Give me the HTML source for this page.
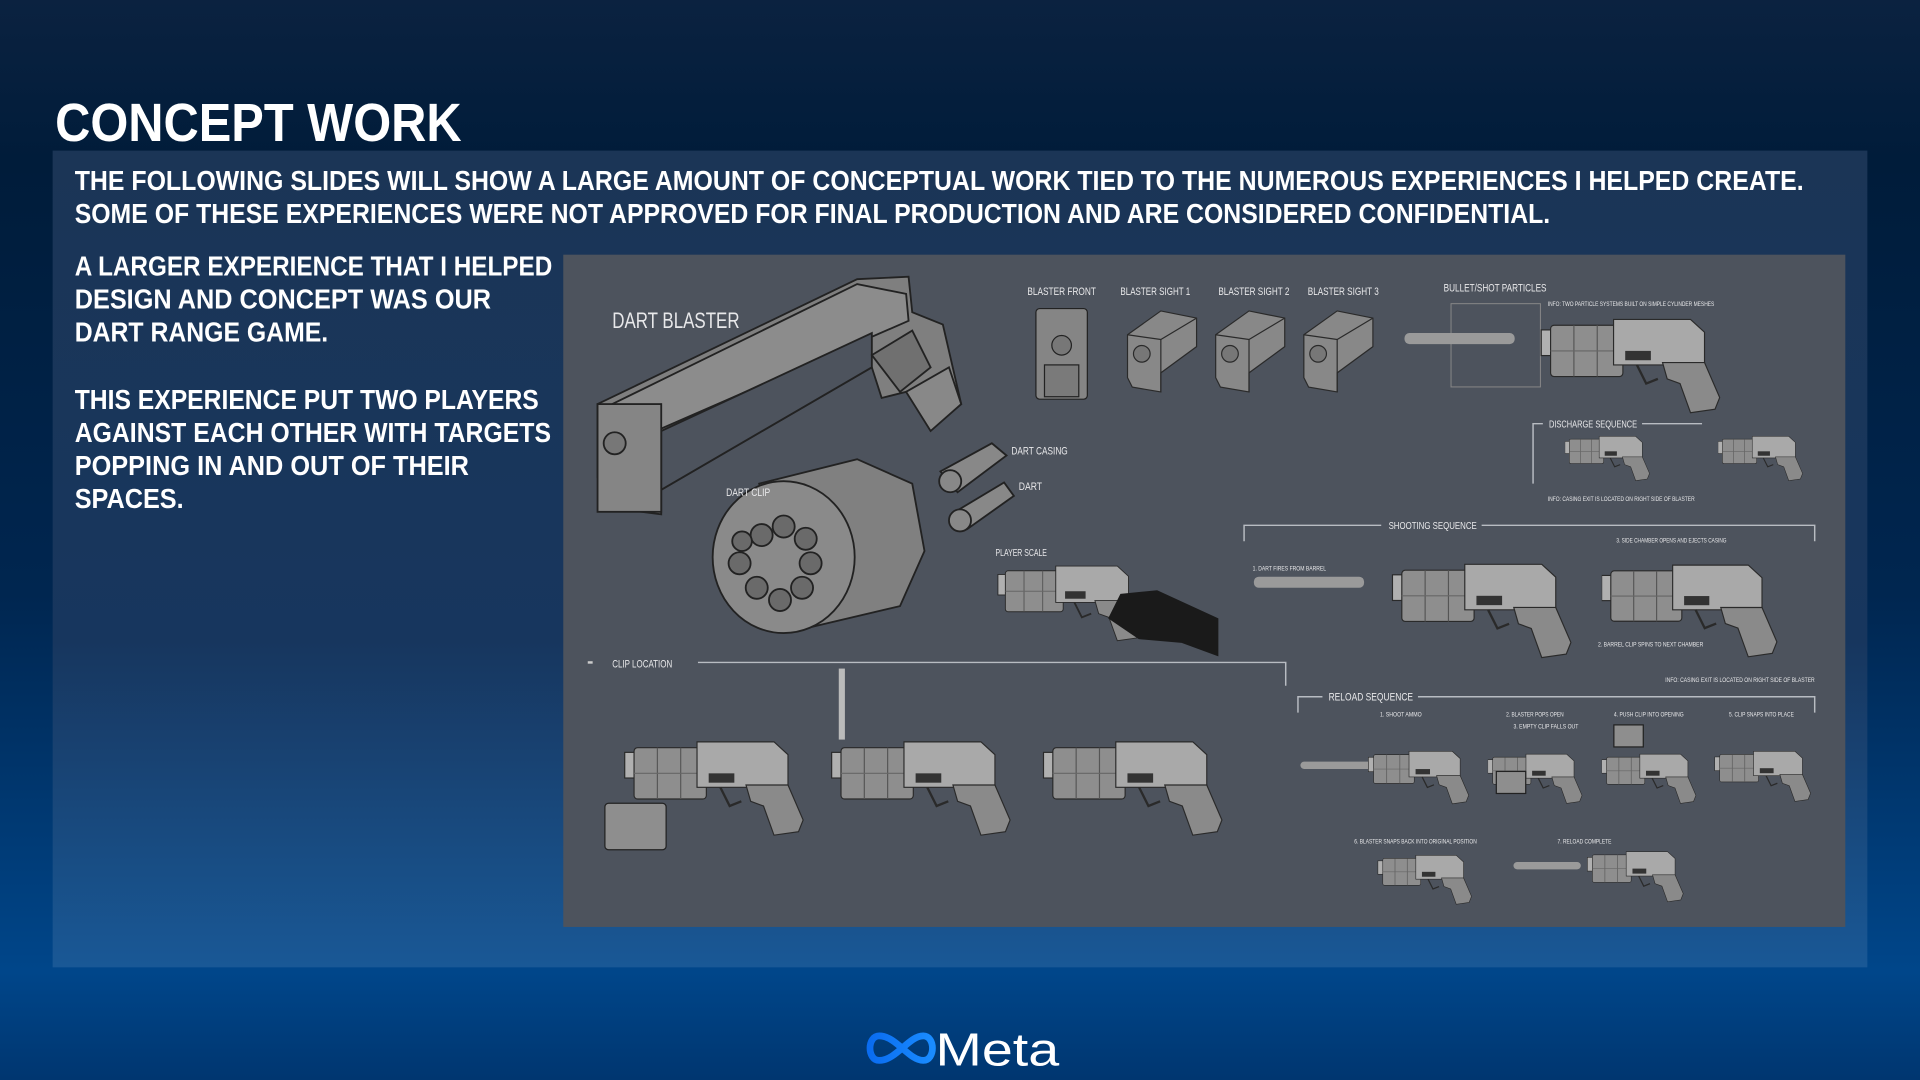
<!DOCTYPE html>
<html><head><meta charset="utf-8"><style>
html,body{margin:0;padding:0;width:1920px;height:1080px;overflow:hidden;background:#001c3a}
svg{display:block}
.t{font-family:"Liberation Sans",sans-serif;font-weight:bold;fill:#fff}
.h{font-family:"Liberation Sans Narrow","Liberation Sans",sans-serif;fill:#e8e8ea}
</style></head><body>
<svg width="1920" height="1080" viewBox="0 0 1568 882" xmlns="http://www.w3.org/2000/svg">
<defs>
<linearGradient id="bg" x1="0" y1="0" x2="0" y2="1">
<stop offset="0" stop-color="#0b2240"/><stop offset="0.15" stop-color="#001c3a"/><stop offset="0.55" stop-color="#002650"/>
<stop offset="0.9" stop-color="#00468a"/><stop offset="1" stop-color="#003670"/></linearGradient>
<linearGradient id="pn" x1="0" y1="0" x2="0" y2="1">
<stop offset="0" stop-color="#1b3556"/><stop offset="0.6" stop-color="#17365e"/><stop offset="1" stop-color="#195896"/></linearGradient>
<linearGradient id="inf" x1="0" y1="0" x2="1" y2="0"><stop offset="0" stop-color="#0a6cf0"/><stop offset="1" stop-color="#1a8cff"/></linearGradient>
<symbol id="gun" viewBox="0 0 155 84">
<rect x="0" y="12" width="9" height="22" fill="#b0b0b0" stroke="#2a2a2a"/>
<rect x="8" y="8" width="62" height="44" rx="3" fill="#8e8e8e" stroke="#2a2a2a"/>
<line x1="28" y1="8" x2="28" y2="52" stroke="#555"/><line x1="48" y1="8" x2="48" y2="52" stroke="#555"/>
<line x1="8" y1="30" x2="70" y2="30" stroke="#666"/>
<path d="M62,3 L128,3 L140,14 L140,42 L62,42 Z" fill="#a9a9a9" stroke="#2a2a2a"/>
<rect x="72" y="30" width="22" height="8" fill="#333"/>
<path d="M104,40 L140,40 L153,70 L149,80 L128,83 L119,58 L108,54 Z" fill="#8a8a8a" stroke="#2a2a2a"/>
<path d="M82,42 L90,58 L100,54" fill="none" stroke="#2a2a2a" stroke-width="2"/>
</symbol>
<symbol id="sight" viewBox="0 0 62 72">
<path d="M2,22 L30,2 L60,8 L60,32 L30,54 L30,70 L6,66 L2,58 Z" fill="#888" stroke="#2a2a2a"/>
<path d="M2,22 L30,26 L60,8" fill="none" stroke="#2a2a2a"/><line x1="30" y1="26" x2="30" y2="70" stroke="#2a2a2a"/>
<circle cx="14" cy="38" r="7" fill="#777" stroke="#2a2a2a"/>
</symbol>
</defs>
<rect width="1568" height="882" fill="url(#bg)"/>
<rect x="43" y="123" width="1482" height="667" fill="url(#pn)"/>
<text class="t" x="45" y="115" font-size="44" textLength="332" lengthAdjust="spacingAndGlyphs">CONCEPT WORK</text>
<text class="t" x="61" y="155" font-size="23" textLength="1412" lengthAdjust="spacingAndGlyphs">THE FOLLOWING SLIDES WILL SHOW A LARGE AMOUNT OF CONCEPTUAL WORK TIED TO THE NUMEROUS EXPERIENCES I HELPED CREATE.</text>
<text class="t" x="61" y="182" font-size="23" textLength="1205" lengthAdjust="spacingAndGlyphs">SOME OF THESE EXPERIENCES WERE NOT APPROVED FOR FINAL PRODUCTION AND ARE CONSIDERED CONFIDENTIAL.</text>
<g class="t" font-size="23">
<text x="61" y="225" textLength="390" lengthAdjust="spacingAndGlyphs">A LARGER EXPERIENCE THAT I HELPED</text>
<text x="61" y="252" textLength="340" lengthAdjust="spacingAndGlyphs">DESIGN AND CONCEPT WAS OUR</text>
<text x="61" y="279" textLength="207" lengthAdjust="spacingAndGlyphs">DART RANGE GAME.</text>
<text x="61" y="334" textLength="379" lengthAdjust="spacingAndGlyphs">THIS EXPERIENCE PUT TWO PLAYERS</text>
<text x="61" y="361" textLength="389" lengthAdjust="spacingAndGlyphs">AGAINST EACH OTHER WITH TARGETS</text>
<text x="61" y="388" textLength="322" lengthAdjust="spacingAndGlyphs">POPPING IN AND OUT OF THEIR</text>
<text x="61" y="415" textLength="89" lengthAdjust="spacingAndGlyphs">SPACES.</text>
</g>
<rect x="460" y="208" width="1047" height="549" fill="#4d535d"/>
<g stroke="#222" stroke-width="1.5">
<path d="M488,330 L700,228 L742,226 L745,255 L770,265 L785,330 L760,350 L740,320 L720,325 L712,300 L540,400 L540,420 L500,415 L488,390 Z" fill="#7f7f7f"/>
<path d="M500,330 L700,232 L740,240 L742,262 L540,350 Z" fill="#8c8c8c"/>
<path d="M540,352 L540,400 L712,300 L712,272 Z" fill="#4d535d"/>
<rect x="488" y="330" width="52" height="88" fill="#858585"/>
<circle cx="502" cy="362" r="9" fill="#777"/>
<path d="M712,290 L745,270 L760,300 L735,320 Z" fill="#707070"/>
<path d="M740,320 L775,300 L785,330 L760,352 Z" fill="#888"/>
</g>
<g stroke="#222" stroke-width="1.5">
<path d="M620,395 L700,375 L745,395 L755,450 L735,495 L650,515 Z" fill="#808080"/>
<ellipse cx="640" cy="455" rx="58" ry="62" fill="#8a8a8a"/>
<g fill="#6a6a6a"><circle cx="622" cy="437" r="9"/><circle cx="640" cy="430" r="9"/><circle cx="658" cy="440" r="9"/><circle cx="662" cy="460" r="9"/><circle cx="655" cy="480" r="9"/><circle cx="637" cy="490" r="9"/><circle cx="618" cy="480" r="9"/><circle cx="604" cy="460" r="9"/><circle cx="606" cy="442" r="8"/></g>
<path d="M768,385 L810,362 L822,372 L782,402 Z" fill="#888"/><circle cx="776" cy="393" r="9" fill="#888"/>
<path d="M780,418 L820,394 L828,405 L790,432 Z" fill="#888"/><circle cx="784" cy="425" r="9" fill="#888"/>
</g>
<g class="h">
<text x="500" y="268" font-size="18" textLength="104" lengthAdjust="spacingAndGlyphs">DART BLASTER</text>
<text x="593" y="405" font-size="9" textLength="36" lengthAdjust="spacingAndGlyphs">DART CLIP</text>
<text x="826" y="371" font-size="9" textLength="46" lengthAdjust="spacingAndGlyphs">DART CASING</text>
<text x="832" y="400" font-size="9" textLength="19" lengthAdjust="spacingAndGlyphs">DART</text>
<text x="813" y="454" font-size="8" textLength="42" lengthAdjust="spacingAndGlyphs">PLAYER SCALE</text>
<text x="839" y="241" font-size="9" textLength="56" lengthAdjust="spacingAndGlyphs">BLASTER FRONT</text>
<text x="915" y="241" font-size="9" textLength="57" lengthAdjust="spacingAndGlyphs">BLASTER SIGHT 1</text>
<text x="995" y="241" font-size="9" textLength="58" lengthAdjust="spacingAndGlyphs">BLASTER SIGHT 2</text>
<text x="1068" y="241" font-size="9" textLength="58" lengthAdjust="spacingAndGlyphs">BLASTER SIGHT 3</text>
<text x="1179" y="238" font-size="9" textLength="84" lengthAdjust="spacingAndGlyphs">BULLET/SHOT PARTICLES</text>
<text x="1264" y="250" font-size="5" textLength="136" lengthAdjust="spacingAndGlyphs">INFO: TWO PARTICLE SYSTEMS BUILT ON SIMPLE CYLINDER MESHES</text>
<text x="1265" y="349" font-size="8" textLength="72" lengthAdjust="spacingAndGlyphs">DISCHARGE SEQUENCE</text>
<text x="1264" y="409" font-size="5" textLength="120" lengthAdjust="spacingAndGlyphs">INFO: CASING EXIT IS LOCATED ON RIGHT SIDE OF BLASTER</text>
<text x="1134" y="432" font-size="8" textLength="72" lengthAdjust="spacingAndGlyphs">SHOOTING SEQUENCE</text>
<text x="1320" y="443" font-size="5" textLength="90" lengthAdjust="spacingAndGlyphs">3. SIDE CHAMBER OPENS AND EJECTS CASING</text>
<text x="1023" y="466" font-size="5" textLength="60" lengthAdjust="spacingAndGlyphs">1. DART FIRES FROM BARREL</text>
<text x="1305" y="528" font-size="5" textLength="86" lengthAdjust="spacingAndGlyphs">2. BARREL CLIP SPINS TO NEXT CHAMBER</text>
<text x="1360" y="557" font-size="5" textLength="122" lengthAdjust="spacingAndGlyphs">INFO: CASING EXIT IS LOCATED ON RIGHT SIDE OF BLASTER</text>
<text x="500" y="545" font-size="9" textLength="49" lengthAdjust="spacingAndGlyphs">CLIP LOCATION</text>
<text x="1085" y="572" font-size="9" textLength="69" lengthAdjust="spacingAndGlyphs">RELOAD SEQUENCE</text>
<text x="1127" y="585" font-size="5" textLength="34" lengthAdjust="spacingAndGlyphs">1. SHOOT AMMO</text>
<text x="1230" y="585" font-size="5" textLength="47" lengthAdjust="spacingAndGlyphs">2. BLASTER POPS OPEN</text>
<text x="1236" y="595" font-size="5" textLength="53" lengthAdjust="spacingAndGlyphs">3. EMPTY CLIP FALLS OUT</text>
<text x="1318" y="585" font-size="5" textLength="57" lengthAdjust="spacingAndGlyphs">4. PUSH CLIP INTO OPENING</text>
<text x="1412" y="585" font-size="5" textLength="53" lengthAdjust="spacingAndGlyphs">5. CLIP SNAPS INTO PLACE</text>
<text x="1106" y="689" font-size="5" textLength="100" lengthAdjust="spacingAndGlyphs">6. BLASTER SNAPS BACK INTO ORIGINAL POSITION</text>
<text x="1272" y="689" font-size="5" textLength="44" lengthAdjust="spacingAndGlyphs">7. RELOAD COMPLETE</text>
</g>
<g stroke="#b8bcc2" stroke-width="1.2" fill="none">
<path d="M570,541 L1050,541 L1050,560"/>
<path d="M1016,442 L1016,429 L1128,429 M1210,429 L1482,429 L1482,442"/>
<path d="M1060,582 L1060,569 L1080,569 M1158,569 L1482,569 L1482,582"/>
<path d="M1252,395 L1252,346 L1260,346 M1341,346 L1390,346"/>
<rect x="1185" y="248" width="73" height="68" stroke="#888" stroke-width="0.8"/>
</g>
<rect x="480" y="540" width="4" height="2" fill="#ccc"/>
<rect x="846" y="252" width="42" height="74" rx="3" fill="#858585" stroke="#222"/>
<circle cx="867" cy="282" r="8" fill="#777" stroke="#222"/>
<rect x="853" y="298" width="28" height="26" fill="#7a7a7a" stroke="#222"/>
<use href="#sight" x="918" y="252" width="62" height="70"/>
<use href="#sight" x="990" y="252" width="62" height="70"/>
<use href="#sight" x="1062" y="252" width="62" height="70"/>
<g fill="#9a9a9a"><rect x="1147" y="272" width="90" height="9" rx="4"/><rect x="1024" y="471" width="90" height="9" rx="4"/><rect x="1062" y="622" width="60" height="6" rx="3"/><rect x="1236" y="704" width="55" height="6" rx="3"/></g>
<use href="#gun" x="1255" y="258" width="155" height="80"/>
<use href="#gun" x="1278" y="355" width="70" height="38"/>
<use href="#gun" x="1403" y="355" width="70" height="38"/>
<use href="#gun" x="1135" y="458" width="152" height="80"/>
<use href="#gun" x="1308" y="450" width="145" height="96"/>
<use href="#gun" x="813" y="460" width="122" height="64"/>
<path d="M915,485 L945,482 L995,505 L995,536 L965,525 L930,522 L905,505 Z" fill="#1a1a1a"/>
<use href="#gun" x="508" y="603" width="152" height="80"/>
<use href="#gun" x="677" y="603" width="152" height="80"/>
<use href="#gun" x="850" y="603" width="152" height="80"/>
<rect x="685" y="546" width="5" height="58" fill="#bbb"/>
<rect x="494" y="656" width="50" height="38" rx="3" fill="#8e8e8e" stroke="#222"/>
<use href="#gun" x="1115" y="612" width="88" height="45"/>
<use href="#gun" x="1215" y="614" width="78" height="43"/>
<use href="#gun" x="1308" y="614" width="78" height="43"/>
<use href="#gun" x="1400" y="612" width="80" height="43"/>
<use href="#gun" x="1124" y="697" width="80" height="42"/>
<use href="#gun" x="1295" y="694" width="82" height="43"/>
<rect x="1318" y="592" width="24" height="18" fill="#8e8e8e" stroke="#222"/>
<rect x="1222" y="630" width="24" height="18" fill="#8e8e8e" stroke="#222"/>
<path d="M718,866 C708,866 708,846 718,846 C732,846 742,866 754,866 C764,866 764,846 754,846 C742,846 732,866 718,866 Z" fill="none" stroke="url(#inf)" stroke-width="5.5"/>
<text x="764" y="870" font-family="Liberation Sans,sans-serif" font-size="38" fill="#fff" textLength="101" lengthAdjust="spacingAndGlyphs">Meta</text>
</svg>
</body></html>
